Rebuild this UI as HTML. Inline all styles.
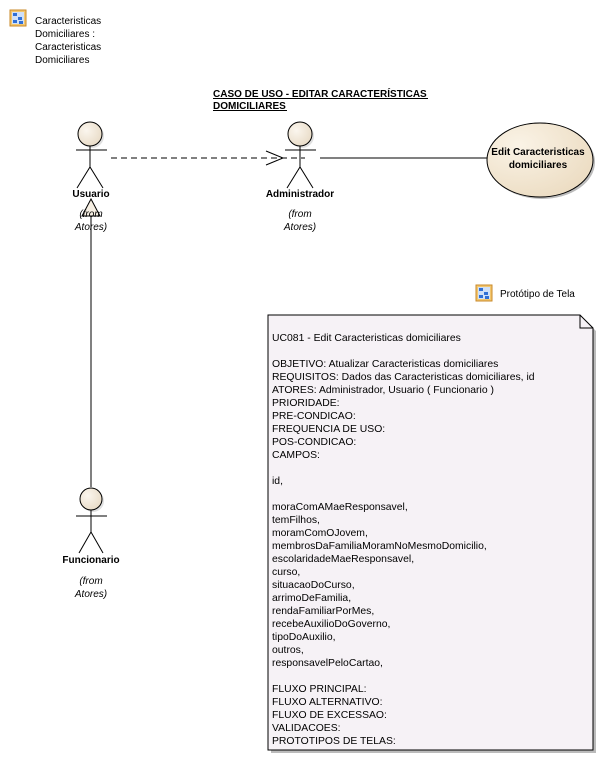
<!DOCTYPE html>
<html><head><meta charset="utf-8"><style>
html,body{margin:0;padding:0;background:#fff;}
svg{display:block;font-family:"Liberation Sans",Arial,sans-serif;}
</style></head><body>
<svg width="602" height="760" viewBox="0 0 602 760" xmlns="http://www.w3.org/2000/svg">
<defs>
<radialGradient id="hg" cx="0.35" cy="0.35" r="0.8"><stop offset="0" stop-color="#fbf6ee"/><stop offset="1" stop-color="#e6d8c2"/></radialGradient>
<radialGradient id="eg" cx="0.3" cy="0.3" r="0.9"><stop offset="0" stop-color="#faf3e6"/><stop offset="1" stop-color="#ead9bd"/></radialGradient>
<g id="icon"><rect x="0" y="0" width="16" height="16" fill="#f3c66d" stroke="#c98a2a"/><rect x="2" y="2" width="12" height="12" fill="#cfe0f8"/><g fill="#2f6fd6"><rect x="3" y="3" width="4" height="3"/><rect x="8" y="7" width="4" height="3"/><rect x="3" y="10" width="4" height="3"/><rect x="9" y="11" width="4" height="3"/></g></g>
</defs>
<use href="#icon" x="10" y="10"/>
<g font-size="10" fill="#000">
<text x="35" y="24">Caracteristicas</text>
<text x="35" y="37">Domiciliares :</text>
<text x="35" y="50">Caracteristicas</text>
<text x="35" y="63">Domiciliares</text>
</g>
<g font-size="10" font-weight="bold">
<text x="213" y="97">CASO DE USO - EDITAR CARACTERÍSTICAS</text>
<text x="213" y="109">DOMICILIARES</text>
</g>
<line x1="213" y1="98.5" x2="428" y2="98.5" stroke="#000"/>
<line x1="213" y1="110.5" x2="287" y2="110.5" stroke="#000"/>

<!-- connectors -->
<line x1="111" y1="158" x2="305" y2="158" stroke="#000" stroke-dasharray="6,4"/>
<polyline points="266,151 283,158 266,165" fill="none" stroke="#000"/>
<line x1="320" y1="158" x2="488" y2="158" stroke="#000"/>
<line x1="91" y1="216" x2="91" y2="487" stroke="#000"/>
<polygon points="91,199 82,216 100,216" fill="#f6efe3" stroke="#000"/>

<!-- actors -->
<g stroke="#000" fill="none">
<circle cx="92" cy="136" r="12" fill="#ccc" stroke="none" opacity="0.6"/>
<circle cx="90" cy="134" r="12" fill="url(#hg)"/>
<line x1="76" y1="150" x2="107" y2="150"/><line x1="90" y1="146" x2="90" y2="167"/>
<polyline points="77,188 90,167 103,188"/>
<circle cx="302" cy="136" r="12" fill="#ccc" stroke="none" opacity="0.6"/>
<circle cx="300" cy="134" r="12" fill="url(#hg)"/>
<line x1="285" y1="150" x2="316" y2="150"/><line x1="300" y1="146" x2="300" y2="167"/>
<polyline points="287,188 300,167 313,188"/>
<circle cx="93" cy="501" r="11" fill="#ccc" stroke="none" opacity="0.6"/>
<circle cx="91" cy="499" r="11" fill="url(#hg)"/>
<line x1="76" y1="516" x2="107" y2="516"/><line x1="91" y1="510" x2="91" y2="532"/>
<polyline points="79,553 91,532 103,553"/>
</g>
<g font-size="10" text-anchor="middle">
<text x="91" y="197" font-weight="bold">Usuario</text>
<text x="91" y="217" font-style="italic">(from</text>
<text x="91" y="230" font-style="italic">Atores)</text>
<text x="300" y="197" font-weight="bold">Administrador</text>
<text x="300" y="217" font-style="italic">(from</text>
<text x="300" y="230" font-style="italic">Atores)</text>
<text x="91" y="563" font-weight="bold">Funcionario</text>
<text x="91" y="584" font-style="italic">(from</text>
<text x="91" y="597" font-style="italic">Atores)</text>
</g>

<!-- use case -->
<ellipse cx="542" cy="162" rx="53" ry="37" fill="#bbb"/>
<ellipse cx="540" cy="160" rx="53" ry="37" fill="url(#eg)" stroke="#000"/>
<g font-size="10" font-weight="bold" text-anchor="middle">
<text x="538" y="155">Edit Caracteristicas</text>
<text x="538" y="168">domiciliares</text>
</g>

<use href="#icon" x="476" y="285"/>
<text x="500" y="297" font-size="10">Protótipo de Tela</text>

<!-- note -->
<polygon points="271,318 583,318 596,331 596,753 271,753" fill="#bbb"/>
<polygon points="268,315 580,315 593,328 593,750 268,750" fill="#f6f2f6" stroke="#000"/>
<polyline points="580,315 580,328 593,328" fill="none" stroke="#000"/>
<g font-size="10.4" fill="#000">
<text x="272" y="341">UC081 - Edit Caracteristicas domiciliares</text>
<text x="272" y="367">OBJETIVO: Atualizar Caracteristicas domiciliares</text>
<text x="272" y="380">REQUISITOS: Dados das Caracteristicas domiciliares, id</text>
<text x="272" y="393">ATORES: Administrador, Usuario ( Funcionario )</text>
<text x="272" y="406">PRIORIDADE:</text>
<text x="272" y="419">PRE-CONDICAO:</text>
<text x="272" y="432">FREQUENCIA DE USO:</text>
<text x="272" y="445">POS-CONDICAO:</text>
<text x="272" y="458">CAMPOS:</text>
<text x="272" y="484">id,</text>
<text x="272" y="510">moraComAMaeResponsavel,</text>
<text x="272" y="523">temFilhos,</text>
<text x="272" y="536">moramComOJovem,</text>
<text x="272" y="549">membrosDaFamiliaMoramNoMesmoDomicilio,</text>
<text x="272" y="562">escolaridadeMaeResponsavel,</text>
<text x="272" y="575">curso,</text>
<text x="272" y="588">situacaoDoCurso,</text>
<text x="272" y="601">arrimoDeFamilia,</text>
<text x="272" y="614">rendaFamiliarPorMes,</text>
<text x="272" y="627">recebeAuxilioDoGoverno,</text>
<text x="272" y="640">tipoDoAuxilio,</text>
<text x="272" y="653">outros,</text>
<text x="272" y="666">responsavelPeloCartao,</text>
<text x="272" y="692">FLUXO PRINCIPAL:</text>
<text x="272" y="705">FLUXO ALTERNATIVO:</text>
<text x="272" y="718">FLUXO DE EXCESSAO:</text>
<text x="272" y="731">VALIDACOES:</text>
<text x="272" y="744">PROTOTIPOS DE TELAS:</text>
</g>
</svg>
</body></html>
